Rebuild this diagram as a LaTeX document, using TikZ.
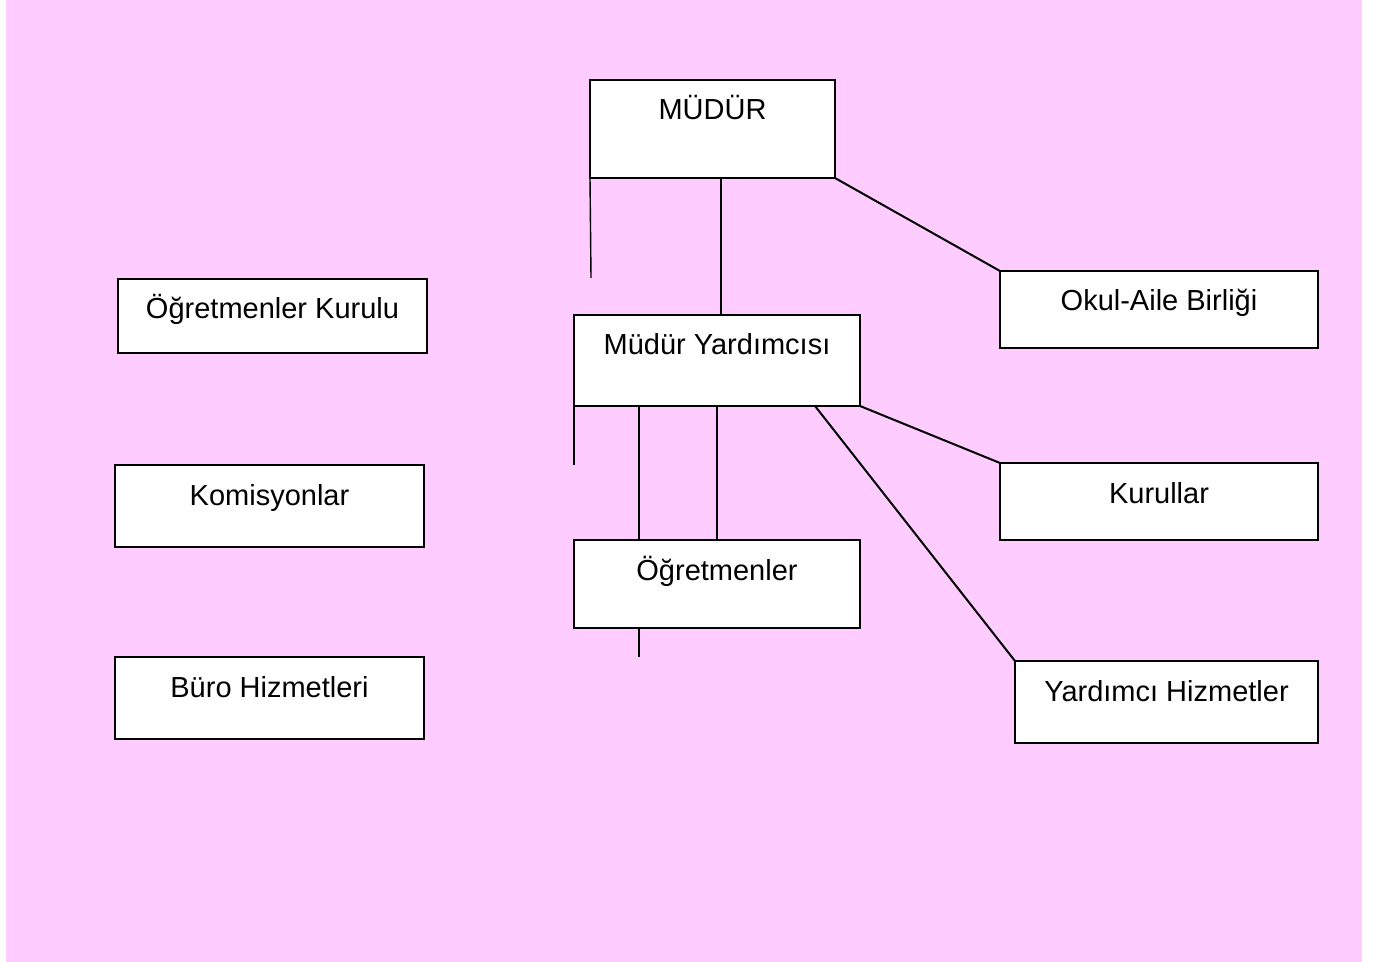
\documentclass[tikz,border=0pt]{standalone}
\usepackage{fontspec}
\setmainfont{Liberation Sans}
\usetikzlibrary{positioning}
\definecolor{pinkbg}{RGB}{255,204,255}
\begin{document}
\begin{tikzpicture}[
  x=0.5pt, y=-0.5pt,
  box/.style 2 args={
    rectangle,
    draw=black,
    fill=white,
    line width=1pt,
    inner sep=0pt,
    outer sep=0pt,
    anchor=north west,
    text height=20pt,
    text depth=#2,
    minimum width=#1,
    font=\fontsize{14.5}{17}\selectfont
  },
  link/.style={line width=1pt},
  stub/.style={line width=0.7pt}]
  \useasboundingbox (0,0) rectangle (1380,962);
  \fill[pinkbg] (6,0) rectangle (1362,962);
  % top
  \node[box={122.5pt}{29pt}] (mudur) at (590,80) {MÜDÜR};
  % middle column
  \node[box={143pt}{25.5pt}] (yardimci) at (574,315) {Müdür Yardımcısı};
  \node[box={143pt}{24pt}] (ogretmen) at (574,540) {Öğretmenler};
  % left column
  \node[box={154.5pt}{17pt}] (kurulu) at (118,279) {Öğretmenler Kurulu};
  \node[box={154.5pt}{21pt}] (komisyon) at (115,465) {Komisyonlar};
  \node[box={154.5pt}{21pt}] (buro) at (115,657) {Büro Hizmetleri};
  % right column
  \node[box={159pt}{18.5pt}] (aile) at (1000,271) {Okul-Aile Birliği};
  \node[box={159pt}{18.5pt}] (kurullar) at (1000,463) {Kurullar};
  \node[box={151.5pt}{21pt}] (hizmet) at (1015,661) {Yardımcı Hizmetler};
  % connectors
  \coordinate (mudurend) at (591,278);
  \coordinate (yardend) at (574,465);
  \coordinate (ogrend) at (639,657);
  \coordinate (colA) at (721,0);
  \coordinate (colB) at (639,0);
  \coordinate (colC) at (815,0);
  \draw[stub] (mudur.south west) -- (mudurend);
  \draw[link] (mudur.south -| colA) -- (yardimci.north -| colA);
  \draw[link] (mudur.south east) -- (aile.north west);
  \draw[stub] (yardimci.south west) -- (yardend);
  \draw[link] (yardimci.south -| colB) -- (ogretmen.north -| colB);
  \draw[link] (yardimci.south) -- (ogretmen.north);
  \draw[link] (yardimci.south -| colC) -- (hizmet.north west);
  \draw[link] (yardimci.south east) -- (kurullar.north west);
  \draw[link] (ogretmen.south -| colB) -- (ogrend);
\end{tikzpicture}
\end{document}
